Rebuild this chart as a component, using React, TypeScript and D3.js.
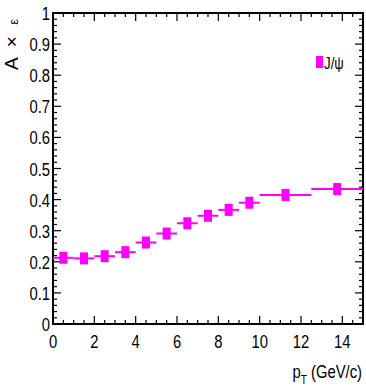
import * as d3 from 'd3';
import React, { useRef, useEffect } from 'react';

// pT bins (GeV/c) and acceptance x efficiency for J/psi
const binLow = [0, 1, 2, 3, 4, 5, 6, 7, 8, 9, 10, 12.5];
const binHigh = [1, 2, 3, 4, 5, 6, 7, 8, 9, 10, 12.5, 15];
const binCenter = [0.5, 1.5, 2.5, 3.5, 4.5, 5.5, 6.5, 7.5, 8.5, 9.5, 11.25, 13.75];
const accEff = [0.213, 0.211, 0.218, 0.231, 0.262, 0.291, 0.324, 0.348, 0.367, 0.39, 0.415, 0.434];

const xTicks = [0, 2, 4, 6, 8, 10, 12, 14];
const yTicks = [0, 0.1, 0.2, 0.3, 0.4, 0.5, 0.6, 0.7, 0.8, 0.9, 1];

const W = 366;
const H = 389;

const App: React.FC = () => {
    const svgRef = useRef<SVGSVGElement | null>(null);

    useEffect(() => {
        const l = 53;
        const r = 363;
        const t = 13;
        const b = 324;
        const font = "'Liberation Sans', Arial, sans-serif";
        const sx = 0.78; // narrow look of the original font
        const magenta = '#ff00ff';

        const svg = d3.select(svgRef.current).attr('width', W).attr('height', H);
        svg.selectAll('*').remove();

        svg.append('rect').attr('width', W).attr('height', H).attr('fill', '#fff');

        const x = d3.scaleLinear().domain([0, 15]).range([l, r]);
        const y = d3.scaleLinear().domain([0, 1]).range([b, t]);

        // ticks (inside the frame, on all four sides)
        const ticks = svg.append('g').attr('stroke', '#000').attr('stroke-width', 1.2);
        d3.range(0, 15.001, 0.5).forEach(v => {
            const major = Math.abs(v % 2) < 1e-6;
            const len = major ? 8 : 4;
            ticks.append('line').attr('x1', x(v)).attr('x2', x(v)).attr('y1', b).attr('y2', b - len);
            ticks.append('line').attr('x1', x(v)).attr('x2', x(v)).attr('y1', t).attr('y2', t + len);
        });
        d3.range(0, 1.0001, 0.02).forEach(v => {
            const major = Math.abs((v * 10) - Math.round(v * 10)) < 1e-6;
            const len = major ? 8 : 4;
            ticks.append('line').attr('x1', l).attr('x2', l + len).attr('y1', y(v)).attr('y2', y(v));
            ticks.append('line').attr('x1', r).attr('x2', r - len).attr('y1', y(v)).attr('y2', y(v));
        });

        // frame
        svg.append('rect')
            .attr('x', l).attr('y', t)
            .attr('width', r - l).attr('height', b - t)
            .attr('fill', 'none').attr('stroke', '#000').attr('stroke-width', 2);

        // tick labels
        svg.append('g').selectAll('text')
            .data(xTicks).enter().append('text')
            .attr('transform', d => `translate(${x(d)}, ${b + 24}) scale(${sx}, 1)`)
            .attr('text-anchor', 'middle')
            .attr('font-family', font).attr('font-size', 19)
            .text(d => d);

        svg.append('g').selectAll('text')
            .data(yTicks).enter().append('text')
            .attr('transform', d => `translate(${l - 3}, ${y(d) + 7}) scale(${sx}, 1)`)
            .attr('text-anchor', 'end')
            .attr('font-family', font).attr('font-size', 19)
            .text(d => (d === 0 || d === 1 ? String(d) : d.toFixed(1)));

        // axis titles
        const xt = svg.append('text')
            .attr('transform', `translate(${r - 1}, 378) scale(${sx}, 1)`)
            .attr('text-anchor', 'end')
            .attr('font-family', font).attr('font-size', 19);
        xt.append('tspan').text('p');
        xt.append('tspan').attr('dy', 6).attr('font-size', 13).text('T');
        xt.append('tspan').attr('dy', -6).text(' (GeV/c)');

        const yt = svg.append('text')
            .attr('transform', 'translate(18, 16) rotate(-90)')
            .attr('text-anchor', 'end')
            .attr('font-family', font)
            .attr('letter-spacing', 3)
            .attr('font-size', 19);
        yt.append('tspan').text('A × ');
        yt.append('tspan').attr('font-size', 13).text('ε');

        // data: horizontal bin-width bars and markers
        const g = svg.append('g');
        binLow.forEach((lo, i) => {
            g.append('line')
                .attr('x1', x(lo)).attr('x2', x(binHigh[i]))
                .attr('y1', y(accEff[i])).attr('y2', y(accEff[i]))
                .attr('stroke', magenta).attr('stroke-width', 2);
        });
        g.selectAll('rect.pt')
            .data(accEff).enter().append('rect')
            .attr('class', 'pt')
            .attr('x', (d, i) => x(binCenter[i]) - 4)
            .attr('y', d => y(d) - 6)
            .attr('width', 8).attr('height', 12)
            .attr('fill', magenta);

        // legend
        svg.append('rect')
            .attr('x', 316).attr('y', 56)
            .attr('width', 7).attr('height', 12)
            .attr('fill', magenta);
        svg.append('text')
            .attr('transform', `translate(324, 69) scale(${sx}, 1)`)
            .attr('font-family', font).attr('font-size', 17)
            .text('J/ψ');
    }, []);

    return (
        <svg ref={svgRef} style={{ position: 'absolute', left: 0, top: 0 }}></svg>
    );
};

export default App;
